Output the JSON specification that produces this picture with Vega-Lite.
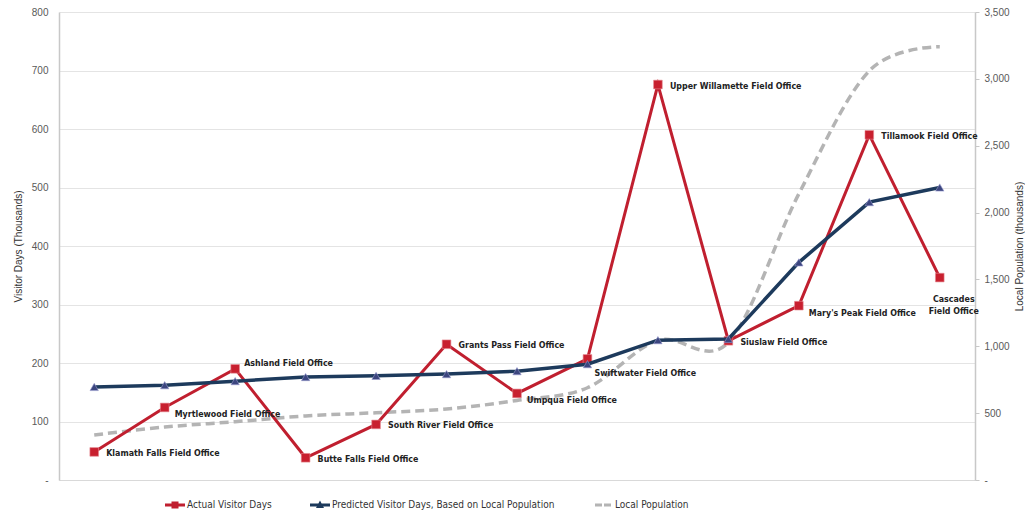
{
  "$schema": "https://vega.github.io/schema/vega-lite/v6.json",
  "width": 916,
  "height": 468,
  "autosize": "none",
  "padding": {"left": 59, "top": 12, "right": 50, "bottom": 33},
  "background": "white",
  "config": {
    "view": {"stroke": null},
    "font": "Liberation Sans",
    "axis": {"labelFont": "Liberation Sans", "titleFont": "Liberation Sans"}
  },
  "datasets": {
    "offices": [
      {"office": "Klamath Falls Field Office", "label": "Klamath Falls Field Office", "actual": 48, "predicted": 159, "population": 337},
      {"office": "Myrtlewood Field Office", "label": "Myrtlewood Field Office", "actual": 124, "predicted": 162, "population": 396},
      {"office": "Ashland Field Office", "label": "Ashland Field Office", "actual": 190, "predicted": 169, "population": 436},
      {"office": "Butte Falls Field Office", "label": "Butte Falls Field Office", "actual": 38, "predicted": 176, "population": 479},
      {"office": "South River Field Office", "label": "South River Field Office", "actual": 95, "predicted": 178, "population": 503},
      {"office": "Grants Pass Field Office", "label": "Grants Pass Field Office", "actual": 232, "predicted": 181, "population": 531},
      {"office": "Umpqua Field Office", "label": "Umpqua Field Office", "actual": 148, "predicted": 186, "population": 595},
      {"office": "Swiftwater Field Office", "label": "Swiftwater Field Office", "actual": 207, "predicted": 198, "population": 690},
      {"office": "Upper Willamette Field Office", "label": "Upper Willamette Field Office", "actual": 676, "predicted": 239, "population": 1045},
      {"office": "Siuslaw Field Office", "label": "Siuslaw Field Office", "actual": 238, "predicted": 241, "population": 1030},
      {"office": "Mary's Peak Field Office", "label": "Mary's Peak Field Office", "actual": 298, "predicted": 372, "population": 2140},
      {"office": "Tillamook Field Office", "label": "Tillamook Field Office", "actual": 590, "predicted": 475, "population": 3060},
      {"office": "Cascades Field Office", "label": "Cascades\nField Office", "actual": 346, "predicted": 500, "population": 3240}
    ],
    "series": [
      {"series": "Actual Visitor Days"},
      {"series": "Predicted Visitor Days, Based on Local Population"},
      {"series": "Local Population"}
    ]
  },
  "layer": [
    {
      "data": {"name": "offices"},
      "mark": {"type": "line", "interpolate": "cardinal", "strokeDash": [9, 5], "strokeWidth": 3.5, "color": "#B4B4B4"},
      "encoding": {
        "x": {"field": "office", "type": "nominal", "sort": null, "scale": {"type": "point", "padding": 0.5},
              "axis": {"labels": false, "ticks": false, "title": null, "grid": false, "domainColor": "#d9d9d9", "domainWidth": 1}},
        "y": {"field": "population", "type": "quantitative", "scale": {"domain": [0, 3500]},
              "axis": {"orient": "right", "values": [0, 500, 1000, 1500, 2000, 2500, 3000, 3500],
                       "labelExpr": "datum.value == 0 ? '-' : format(datum.value, ',')",
                       "grid": false, "domainColor": "#c8c8c8", "domainWidth": 1.5, "tickColor": "#c8c8c8", "tickSize": 4,
                       "labelPadding": 5, "labelFontSize": 10, "labelColor": "#595959",
                       "title": "Local Population (thousands)", "titleAngle": -90, "titleFontWeight": "normal",
                       "titleFontSize": 10, "titleColor": "#333333", "titlePadding": 15}}
      }
    },
    {
      "data": {"name": "offices"},
      "encoding": {
        "x": {"field": "office", "type": "nominal", "sort": null, "scale": {"type": "point", "padding": 0.5}}
      },
      "layer": [
        {
          "mark": {"type": "line", "strokeWidth": 3, "color": "#C01F2F"},
          "encoding": {
            "y": {"field": "actual", "type": "quantitative", "scale": {"domain": [0, 800]},
                  "axis": {"orient": "left", "values": [0, 100, 200, 300, 400, 500, 600, 700, 800],
                           "labelExpr": "datum.value == 0 ? '-' : format(datum.value, 'd')",
                           "grid": true, "gridColor": "#e4e4e4", "gridWidth": 1,
                           "domainColor": "#c8c8c8", "domainWidth": 1.5, "ticks": false,
                           "labelPadding": 11, "labelFontSize": 10, "labelColor": "#595959",
                           "title": "Visitor Days (Thousands)", "titleFontWeight": "normal",
                           "titleFontSize": 10, "titleColor": "#333333", "titlePadding": 8}}
          }
        },
        {
          "mark": {"type": "point", "shape": "square", "filled": true, "size": 75, "color": "#C8202F", "stroke": "#e58a92", "strokeWidth": 0.6, "opacity": 1},
          "encoding": {"y": {"field": "actual", "type": "quantitative"}}
        },
        {
          "mark": {"type": "line", "strokeWidth": 3.5, "color": "#1D3A5C"},
          "encoding": {"y": {"field": "predicted", "type": "quantitative"}}
        },
        {
          "mark": {"type": "point", "shape": "triangle-up", "filled": true, "size": 70, "color": "#3C467F", "stroke": "#9a9cd0", "strokeWidth": 0.6, "opacity": 1},
          "encoding": {"y": {"field": "predicted", "type": "quantitative"}}
        },
        {
          "transform": [{"filter": {"field": "office", "oneOf": ["Klamath Falls Field Office", "Butte Falls Field Office", "South River Field Office", "Grants Pass Field Office", "Upper Willamette Field Office", "Siuslaw Field Office", "Tillamook Field Office"]}}],
          "mark": {"type": "text", "align": "left", "baseline": "middle", "dx": 12, "dy": 1, "fontSize": 8.8, "fontWeight": "bold", "color": "#222222", "font": "'Liberation Sans Narrow', 'DejaVu Sans Condensed', sans-serif"},
          "encoding": {"y": {"field": "actual", "type": "quantitative"}, "text": {"field": "label"}}
        },
        {
          "transform": [{"filter": {"field": "office", "oneOf": ["Myrtlewood Field Office", "Umpqua Field Office", "Mary's Peak Field Office"]}}],
          "mark": {"type": "text", "align": "left", "baseline": "middle", "dx": 10, "dy": 7, "fontSize": 8.8, "fontWeight": "bold", "color": "#222222", "font": "'Liberation Sans Narrow', 'DejaVu Sans Condensed', sans-serif"},
          "encoding": {"y": {"field": "actual", "type": "quantitative"}, "text": {"field": "label"}}
        },
        {
          "transform": [{"filter": {"field": "office", "oneOf": ["Ashland Field Office"]}}],
          "mark": {"type": "text", "align": "left", "baseline": "middle", "dx": 9, "dy": -6, "fontSize": 8.8, "fontWeight": "bold", "color": "#222222", "font": "'Liberation Sans Narrow', 'DejaVu Sans Condensed', sans-serif"},
          "encoding": {"y": {"field": "actual", "type": "quantitative"}, "text": {"field": "label"}}
        },
        {
          "transform": [{"filter": {"field": "office", "oneOf": ["Swiftwater Field Office"]}}],
          "mark": {"type": "text", "align": "left", "baseline": "middle", "dx": 7, "dy": 14, "fontSize": 8.8, "fontWeight": "bold", "color": "#222222", "font": "'Liberation Sans Narrow', 'DejaVu Sans Condensed', sans-serif"},
          "encoding": {"y": {"field": "actual", "type": "quantitative"}, "text": {"field": "label"}}
        },
        {
          "transform": [{"filter": {"field": "office", "oneOf": ["Cascades Field Office"]}}],
          "mark": {"type": "text", "align": "center", "baseline": "top", "lineBreak": "\n", "lineHeight": 12, "dx": 14, "dy": 17, "fontSize": 8.8, "fontWeight": "bold", "color": "#222222", "font": "'Liberation Sans Narrow', 'DejaVu Sans Condensed', sans-serif"},
          "encoding": {"y": {"field": "actual", "type": "quantitative"}, "text": {"field": "label"}}
        }
      ]
    },
    {
      "data": {"name": "series"},
      "mark": {"type": "point", "filled": true},
      "encoding": {
        "opacity": {"value": 0},
        "color": {"field": "series", "type": "nominal",
                  "scale": {"domain": ["Actual Visitor Days", "Predicted Visitor Days, Based on Local Population", "Local Population"], "range": ["#C01F2F", "#1D3A5C", "#B4B4B4"]},
                  "legend": {"orient": "none", "legendX": 106, "legendY": 483, "direction": "horizontal", "title": null,
                             "symbolSize": 400, "symbolOpacity": 1, "symbolStrokeWidth": 0, "labelOffset": 2, "columnPadding": 38, "padding": 0,
                             "labelFontSize": 10, "labelColor": "#333333", "labelFont": "'Liberation Sans Narrow', 'DejaVu Sans Condensed', sans-serif", "labelLimit": 400}},
        "shape": {"field": "series", "type": "nominal",
                  "scale": {"domain": ["Actual Visitor Days", "Predicted Visitor Days, Based on Local Population", "Local Population"],
                            "range": ["M-1,-0.15H1V0.15H-1Z M-0.35,-0.35H0.35V0.35H-0.35Z", "M-1,-0.15H1V0.15H-1Z M0,-0.45L0.4,0.3H-0.4Z", "M-0.8,-0.15H-0.1V0.15H-0.8Z M0.1,-0.15H0.8V0.15H0.1Z"]},
                  "legend": {"orient": "none", "legendX": 106, "legendY": 483, "direction": "horizontal", "title": null,
                             "symbolSize": 400, "symbolOpacity": 1, "symbolStrokeWidth": 0, "labelOffset": 2, "columnPadding": 38, "padding": 0,
                             "labelFontSize": 10, "labelColor": "#333333", "labelFont": "'Liberation Sans Narrow', 'DejaVu Sans Condensed', sans-serif", "labelLimit": 400}}
      }
    }
  ],
  "resolve": {"scale": {"y": "independent"}, "axis": {"y": "independent"}}
}
